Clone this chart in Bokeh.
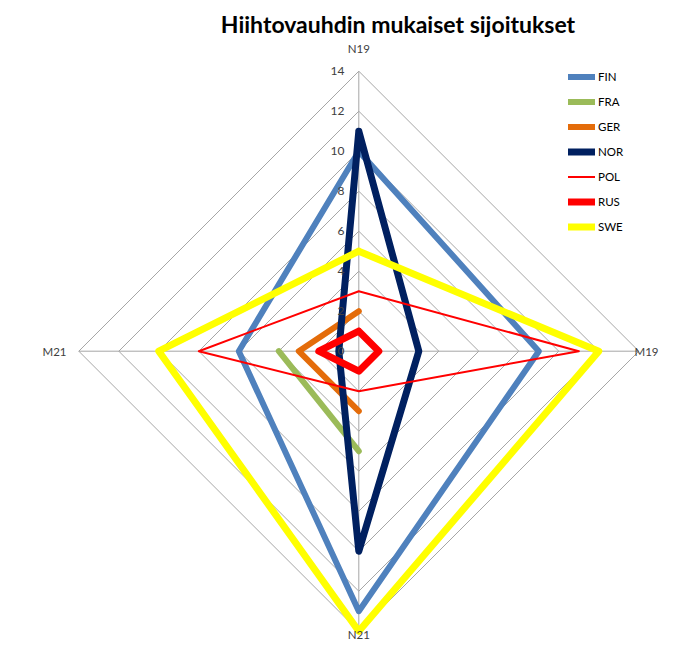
import math
from bokeh.plotting import figure
from bokeh.models import Range1d, Legend, LegendItem
from bokeh.core.properties import value
from bokeh.embed import file_html
from bokeh.resources import INLINE

# ---- data ----
title_text = "Hiihtovauhdin mukaiset sijoitukset"
categories = ["N19", "M19", "N21", "M21"]
series_names = ["FIN", "FRA", "GER", "NOR", "POL", "RUS", "SWE"]
nan = float("nan")
FIN = [10, 9, 13, 6]
FRA = [nan, nan, 5, 4]
GER = [2, nan, 3, 3]
NOR = [11, 3, 10, 1]
POL = [3, 11, 2, 8]
RUS = [1, 1, 1, 2]
SWE = [5, 12, 14, 10]
series_values = [FIN, FRA, GER, NOR, POL, RUS, SWE]
tick_values = [0, 2, 4, 6, 8, 10, 12, 14]
tick_labels = ["0", "2", "4", "6", "8", "10", "12", "14"]
axis_max = 14

# ---- styles ----
colors = ["#4F81BD", "#9BBB59", "#E46C0A", "#002060", "#FF0000", "#FF0000", "#FFFF00"]
widths = [6, 6, 6, 7, 2, 7, 7]
FONT = "Lato"

# geometry (1 data unit = 20 px)
W, H = 659, 641
cx, cy = 358.3, 350.7   # picture coords of center
unit = 20.0
x0 = (0 - cx) / unit
y1 = (cy - 0) / unit

p = figure(width=W, height=H, output_backend="svg", toolbar_location=None,
           x_range=Range1d(x0, x0 + W / unit), y_range=Range1d(y1 - H / unit, y1),
           min_border=0, outline_line_color=None)
p.axis.visible = False
p.grid.visible = False
p.background_fill_color = "white"

angles = [math.pi / 2, 0.0, -math.pi / 2, math.pi]

def px(v, a):
    return v * math.cos(a)

def py(v, a):
    return v * math.sin(a)

# grid diamonds
gx, gy = [], []
for t in tick_values[1:]:
    gx.append([px(t, a) for a in angles] + [px(t, angles[0])])
    gy.append([py(t, a) for a in angles] + [py(t, angles[0])])
p.multi_line(gx, gy, line_color="#a6a6a6", line_width=1)
# spokes
p.multi_line([[0, px(axis_max, a)] for a in angles], [[0, py(axis_max, a)] for a in angles],
             line_color="#a6a6a6", line_width=1)

# series
items = []
for name, vals, c, w in zip(series_names, series_values, colors, widths):
    xs = [px(v, a) for v, a in zip(vals, angles)] + [px(vals[0], angles[0])]
    ys = [py(v, a) for v, a in zip(vals, angles)] + [py(vals[0], angles[0])]
    r = p.line(xs, ys, line_color=c, line_width=w, line_join="round", line_cap="round")
    items.append(LegendItem(label=name, renderers=[r]))

# tick labels on N19 axis
p.text(x=[(344 - cx) / unit] * len(tick_values), y=tick_values, text=tick_labels,
       text_align="right", text_baseline="middle", text_font=value(FONT),
       text_font_size="12px", text_color="#404040")

# category labels
cat_x = [0, (658 - cx) / unit, 0, (66 - cx) / unit]
cat_y = [(cy - 47.5) / unit, 0, (cy - 640) / unit, 0]
aligns = ["center", "right", "center", "right"]
baselines = ["middle", "middle", "bottom", "middle"]
for lab, xx, yy, al, bl in zip(categories, cat_x, cat_y, aligns, baselines):
    p.text(x=[xx], y=[yy], text=[lab], text_align=al, text_baseline=bl,
           text_font=value(FONT), text_font_size="11.5px", text_color="#404040")

# title
p.text(x=[(397.5 - cx) / unit], y=[(cy - 23.5) / unit], text=[title_text],
       text_align="center", text_baseline="middle", text_font=value(FONT),
       text_font_size="23px", text_font_style="bold", text_color="black")

legend = Legend(items=items, location=(568, 404), orientation="vertical",
                glyph_width=27, glyph_height=21, label_height=21, spacing=4,
                label_standoff=3, padding=0, margin=0,
                border_line_color=None, background_fill_alpha=0,
                label_text_font=FONT, label_text_font_size="11.5px",
                label_text_color="black")
p.add_layout(legend, "center")

open("out.html", "w").write(file_html(p, INLINE))
